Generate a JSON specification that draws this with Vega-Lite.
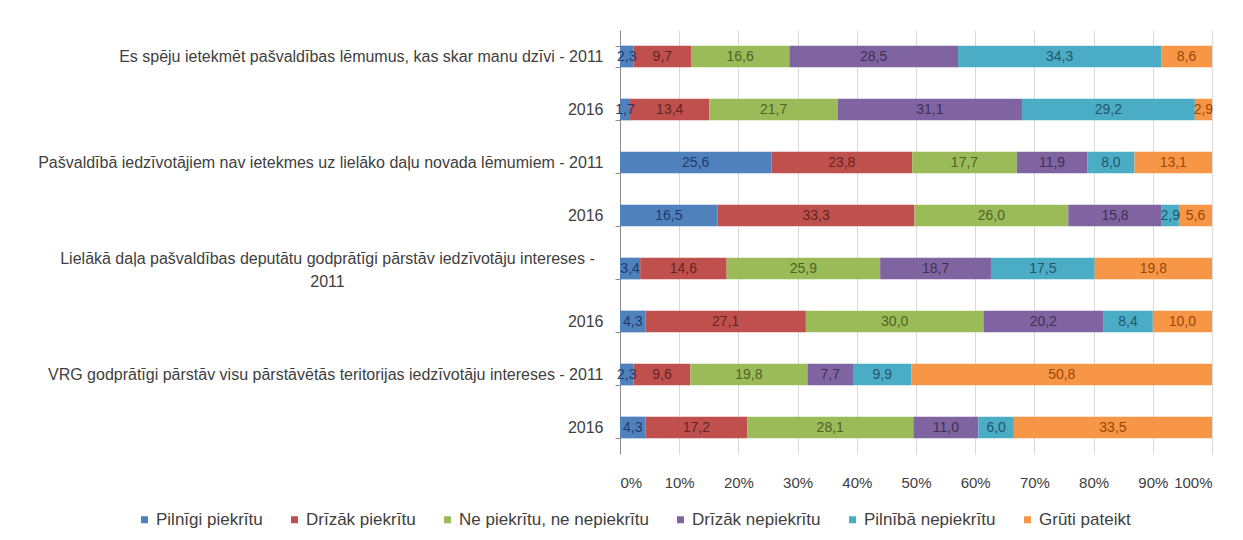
{
  "$schema": "https://vega.github.io/schema/vega-lite/v6.json",
  "width": 592,
  "height": 424,
  "autosize": {"type": "none"},
  "padding": {"left": 620, "top": 30, "right": 31, "bottom": 86},
  "background": "white",
  "config": {
    "locale": {"number": {"decimal": ",", "thousands": " ", "grouping": [3], "currency": ["", " €"]}},
    "view": {"stroke": null},
    "font": "Liberation Sans"
  },
  "resolve": {"scale": {"color": "independent"}},
  "data": {
    "values": [
      {"row": "1", "cat": "Pilnīgi piekrītu", "k": 1, "v": 2.3},
      {"row": "1", "cat": "Drīzāk piekrītu", "k": 2, "v": 9.7},
      {"row": "1", "cat": "Ne piekrītu, ne nepiekrītu", "k": 3, "v": 16.6},
      {"row": "1", "cat": "Drīzāk nepiekrītu", "k": 4, "v": 28.5},
      {"row": "1", "cat": "Pilnībā nepiekrītu", "k": 5, "v": 34.3},
      {"row": "1", "cat": "Grūti pateikt", "k": 6, "v": 8.6},
      {"row": "2", "cat": "Pilnīgi piekrītu", "k": 1, "v": 1.7},
      {"row": "2", "cat": "Drīzāk piekrītu", "k": 2, "v": 13.4},
      {"row": "2", "cat": "Ne piekrītu, ne nepiekrītu", "k": 3, "v": 21.7},
      {"row": "2", "cat": "Drīzāk nepiekrītu", "k": 4, "v": 31.1},
      {"row": "2", "cat": "Pilnībā nepiekrītu", "k": 5, "v": 29.2},
      {"row": "2", "cat": "Grūti pateikt", "k": 6, "v": 2.9},
      {"row": "3", "cat": "Pilnīgi piekrītu", "k": 1, "v": 25.6},
      {"row": "3", "cat": "Drīzāk piekrītu", "k": 2, "v": 23.8},
      {"row": "3", "cat": "Ne piekrītu, ne nepiekrītu", "k": 3, "v": 17.7},
      {"row": "3", "cat": "Drīzāk nepiekrītu", "k": 4, "v": 11.9},
      {"row": "3", "cat": "Pilnībā nepiekrītu", "k": 5, "v": 8.0},
      {"row": "3", "cat": "Grūti pateikt", "k": 6, "v": 13.1},
      {"row": "4", "cat": "Pilnīgi piekrītu", "k": 1, "v": 16.5},
      {"row": "4", "cat": "Drīzāk piekrītu", "k": 2, "v": 33.3},
      {"row": "4", "cat": "Ne piekrītu, ne nepiekrītu", "k": 3, "v": 26.0},
      {"row": "4", "cat": "Drīzāk nepiekrītu", "k": 4, "v": 15.8},
      {"row": "4", "cat": "Pilnībā nepiekrītu", "k": 5, "v": 2.9},
      {"row": "4", "cat": "Grūti pateikt", "k": 6, "v": 5.6},
      {"row": "5", "cat": "Pilnīgi piekrītu", "k": 1, "v": 3.4},
      {"row": "5", "cat": "Drīzāk piekrītu", "k": 2, "v": 14.6},
      {"row": "5", "cat": "Ne piekrītu, ne nepiekrītu", "k": 3, "v": 25.9},
      {"row": "5", "cat": "Drīzāk nepiekrītu", "k": 4, "v": 18.7},
      {"row": "5", "cat": "Pilnībā nepiekrītu", "k": 5, "v": 17.5},
      {"row": "5", "cat": "Grūti pateikt", "k": 6, "v": 19.8},
      {"row": "6", "cat": "Pilnīgi piekrītu", "k": 1, "v": 4.3},
      {"row": "6", "cat": "Drīzāk piekrītu", "k": 2, "v": 27.1},
      {"row": "6", "cat": "Ne piekrītu, ne nepiekrītu", "k": 3, "v": 30.0},
      {"row": "6", "cat": "Drīzāk nepiekrītu", "k": 4, "v": 20.2},
      {"row": "6", "cat": "Pilnībā nepiekrītu", "k": 5, "v": 8.4},
      {"row": "6", "cat": "Grūti pateikt", "k": 6, "v": 10.0},
      {"row": "7", "cat": "Pilnīgi piekrītu", "k": 1, "v": 2.3},
      {"row": "7", "cat": "Drīzāk piekrītu", "k": 2, "v": 9.6},
      {"row": "7", "cat": "Ne piekrītu, ne nepiekrītu", "k": 3, "v": 19.8},
      {"row": "7", "cat": "Drīzāk nepiekrītu", "k": 4, "v": 7.7},
      {"row": "7", "cat": "Pilnībā nepiekrītu", "k": 5, "v": 9.9},
      {"row": "7", "cat": "Grūti pateikt", "k": 6, "v": 50.8},
      {"row": "8", "cat": "Pilnīgi piekrītu", "k": 1, "v": 4.3},
      {"row": "8", "cat": "Drīzāk piekrītu", "k": 2, "v": 17.2},
      {"row": "8", "cat": "Ne piekrītu, ne nepiekrītu", "k": 3, "v": 28.1},
      {"row": "8", "cat": "Drīzāk nepiekrītu", "k": 4, "v": 11.0},
      {"row": "8", "cat": "Pilnībā nepiekrītu", "k": 5, "v": 6.0},
      {"row": "8", "cat": "Grūti pateikt", "k": 6, "v": 33.5}
    ]
  },
  "transform": [
    {"stack": "v", "groupby": ["row"], "sort": [{"field": "k", "order": "ascending"}], "offset": "normalize", "as": ["x0", "x1"]},
    {"calculate": "(datum.x0 + datum.x1) / 2", "as": "xm"}
  ],
  "encoding": {
    "y": {
      "field": "row",
      "type": "nominal",
      "sort": ["1", "2", "3", "4", "5", "6", "7", "8"],
      "scale": {"paddingInner": 0.59, "paddingOuter": 0.295},
      "axis": {
        "title": null,
        "labelExpr": "{'1': 'Es spēju ietekmēt pašvaldības lēmumus, kas skar manu dzīvi - 2011', '2': '2016', '3': 'Pašvaldībā iedzīvotājiem nav ietekmes uz lielāko daļu novada lēmumiem - 2011', '4': '2016', '5': ['Lielākā daļa pašvaldības deputātu godprātīgi pārstāv iedzīvotāju intereses -', '2011'], '6': '2016', '7': 'VRG godprātīgi pārstāv visu pārstāvētās teritorijas iedzīvotāju intereses - 2011', '8': '2016'}[datum.value]",
        "labelFontSize": 16,
        "labelColor": "#404040",
        "labelLimit": 620,
        "labelPadding": {"condition": {"test": "datum.value === '5'", "value": 288}, "value": 12},
        "labelAlign": {"condition": {"test": "datum.value === '5'", "value": "center"}, "value": "right"},
        "labelOffset": {"condition": {"test": "datum.value === '5'", "value": -10}, "value": 0},
        "labelLineHeight": 23,
        "tickBand": "extent",
        "tickSize": 5,
        "tickColor": "#8c8c8c",
        "domainColor": "#8c8c8c",
        "grid": false
      }
    }
  },
  "layer": [
    {
      "mark": {"type": "bar"},
      "encoding": {
        "x": {
          "field": "x0",
          "type": "quantitative",
          "scale": {"domain": [0, 1], "nice": false},
          "axis": {
            "title": null,
            "format": ".0%",
            "values": [0, 0.1, 0.2, 0.3, 0.4, 0.5, 0.6, 0.7, 0.8, 0.9, 1],
            "grid": true,
            "gridColor": "#d9d9d9",
            "domain": false,
            "ticks": false,
            "labelFontSize": 15,
            "labelColor": "#404040",
            "labelPadding": 21
          }
        },
        "x2": {"field": "x1"},
        "color": {
          "field": "cat",
          "type": "nominal",
          "sort": ["Pilnīgi piekrītu", "Drīzāk piekrītu", "Ne piekrītu, ne nepiekrītu", "Drīzāk nepiekrītu", "Pilnībā nepiekrītu", "Grūti pateikt"],
          "scale": {
            "domain": ["Pilnīgi piekrītu", "Drīzāk piekrītu", "Ne piekrītu, ne nepiekrītu", "Drīzāk nepiekrītu", "Pilnībā nepiekrītu", "Grūti pateikt"],
            "range": ["#4F81BD", "#C0504D", "#9BBB59", "#8064A2", "#4BACC6", "#F79646"]
          },
          "legend": {
            "title": null,
            "orient": "none",
            "direction": "horizontal",
            "columns": 6,
            "legendX": -484,
            "legendY": 481,
            "symbolType": "square",
            "symbolSize": 49,
            "symbolStrokeWidth": 0,
            "labelFontSize": 17,
            "labelColor": "#404040",
            "labelOffset": 3,
            "columnPadding": 23,
            "labelLimit": 300
          }
        }
      }
    },
    {
      "mark": {"type": "text", "fontSize": 14, "align": "center", "baseline": "middle"},
      "encoding": {
        "x": {"field": "xm", "type": "quantitative"},
        "text": {"field": "v", "type": "quantitative", "format": ".1f"},
        "color": {
          "field": "cat",
          "type": "nominal",
          "scale": {
            "domain": ["Pilnīgi piekrītu", "Drīzāk piekrītu", "Ne piekrītu, ne nepiekrītu", "Drīzāk nepiekrītu", "Pilnībā nepiekrītu", "Grūti pateikt"],
            "range": ["#1F3A68", "#632523", "#4F6228", "#3F3151", "#205867", "#984807"]
          },
          "legend": null
        }
      }
    }
  ]
}
